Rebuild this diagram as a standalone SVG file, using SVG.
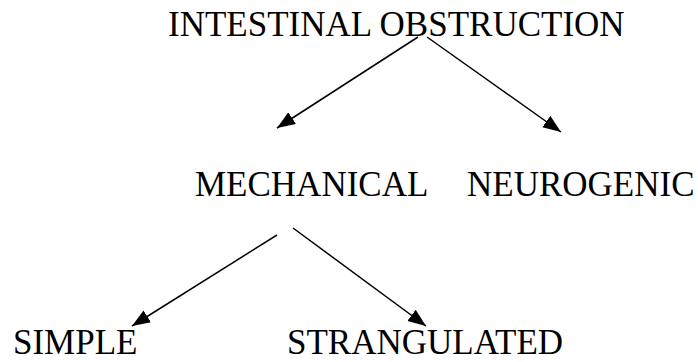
<svg xmlns="http://www.w3.org/2000/svg" width="698" height="362" viewBox="0 0 698 362">
<style>
text{font-family:"Liberation Serif","Times New Roman",serif;font-size:35px;fill:#000}
.c line{stroke:#000;stroke-width:1.5;marker-end:url(#ah)}
</style>
<defs>
<marker id="ah" markerUnits="userSpaceOnUse" markerWidth="20" markerHeight="16" refX="18" refY="7" orient="auto">
<path d="M0,0 L18,7 L0,14 z" fill="#000"/>
</marker>
</defs>
<rect width="698" height="362" fill="#fff"/>
<g id="n-obstruction"><text x="168" y="36">INTESTINAL OBSTRUCTION</text></g>
<g id="n-mechanical"><text x="195" y="196">MECHANICAL</text></g>
<g id="n-neurogenic"><text x="467" y="196">NEUROGENIC</text></g>
<g id="n-simple"><text x="13" y="354">SIMPLE</text></g>
<g id="n-strangulated"><text x="287" y="354">STRANGULATED</text></g>
<g id="connectors" class="c">
<line x1="418" y1="37" x2="277" y2="128"/>
<line x1="427" y1="37" x2="561" y2="132"/>
<line x1="277" y1="235" x2="132" y2="326"/>
<line x1="293" y1="228" x2="426" y2="326"/>
</g>
</svg>
